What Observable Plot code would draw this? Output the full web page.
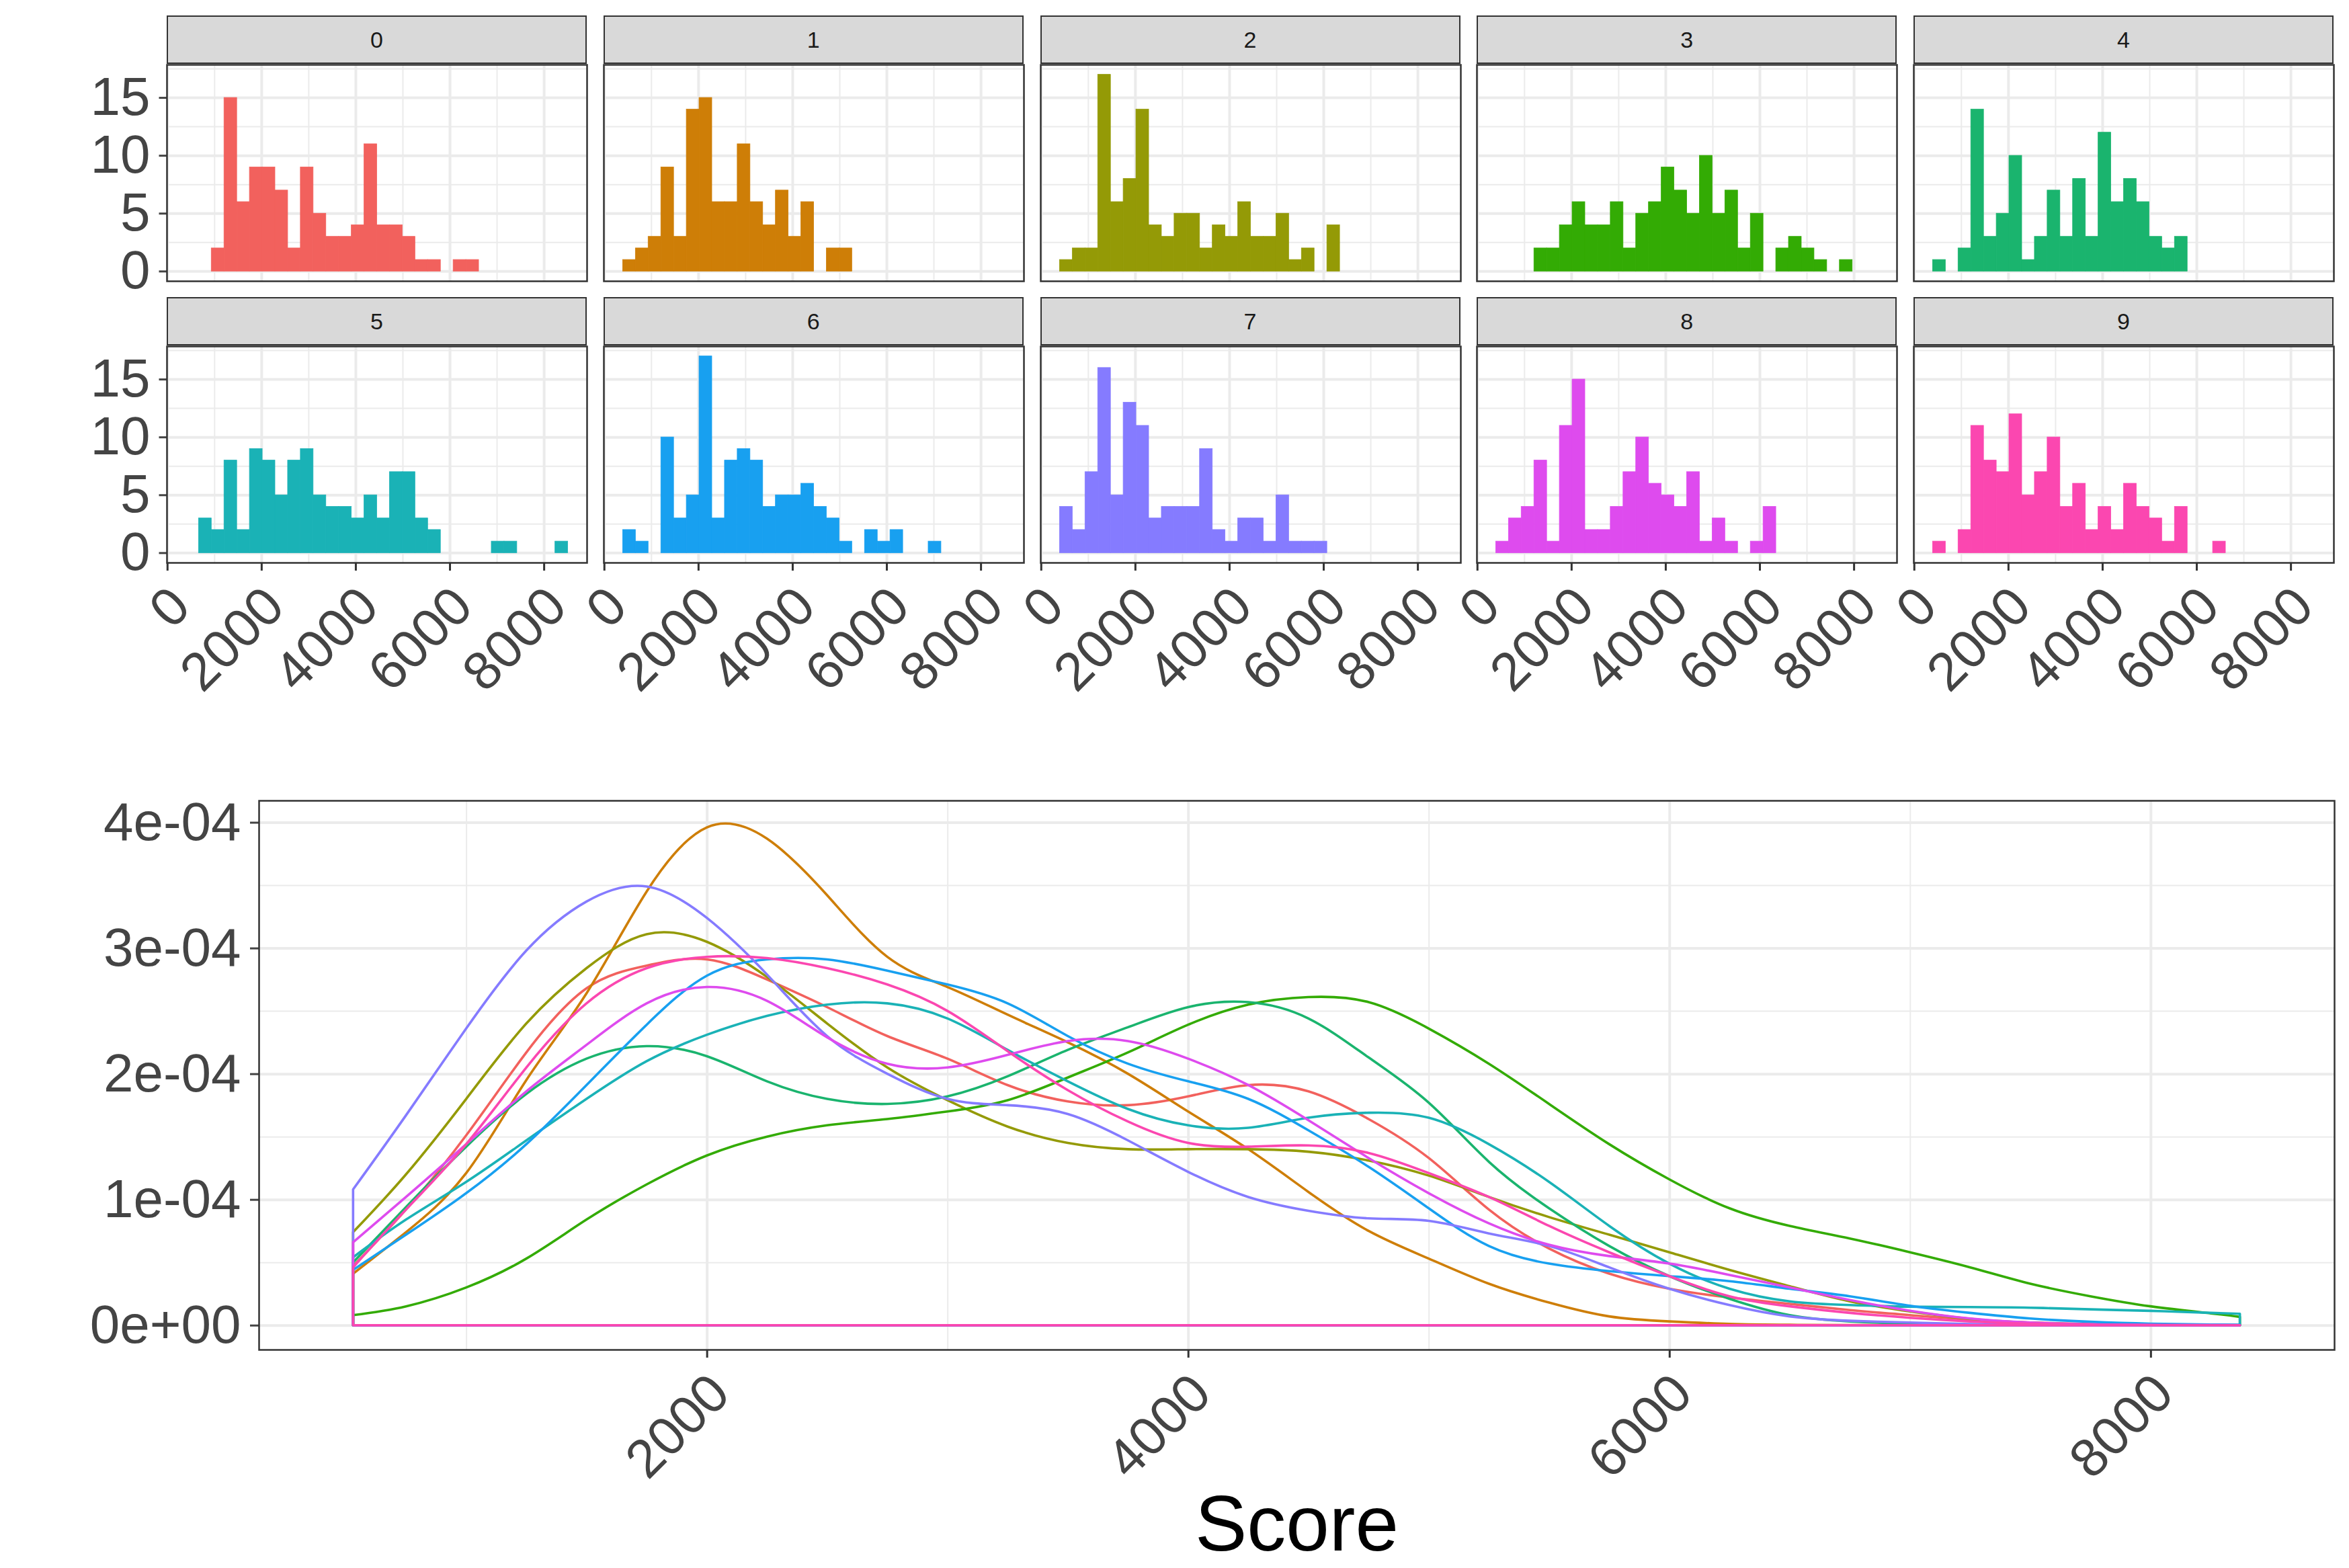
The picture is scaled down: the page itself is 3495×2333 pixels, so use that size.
<!DOCTYPE html>
<html>
<head>
<meta charset="utf-8">
<script src="https://cdn.jsdelivr.net/npm/d3@7"></script>
<script src="https://cdn.jsdelivr.net/npm/@observablehq/plot@0.6"></script>
<style>
html, body { margin: 0; padding: 0; background: #ffffff; }
#root { position: relative; width: 3495px; height: 2333px; overflow: hidden; background: #ffffff;
  font-family: "Liberation Sans", Arial, Helvetica, sans-serif; }
.strip { position: absolute; box-sizing: border-box; background: #D9D9D9; border: 2.5px solid #333333;
  display: flex; align-items: center; justify-content: center; font-size: 34px; color: #1A1A1A; }
.cell { position: absolute; }
.cell svg { max-width: none; overflow: visible; display: block; }
</style>
</head>
<body>
<div id="root"></div>
<script>
// ---------------- data ----------------
const groups = ["0", "1", "2", "3", "4", "5", "6", "7", "8", "9"];
const groupColors = ["#F2615D", "#CE7E07", "#949A06", "#33AB04", "#1AB46E",
                     "#1AB2B6", "#18A0F0", "#857BFF", "#DE4BEE", "#FB47B0"];

// histogram: 30 bins of equal width
const binStart = 394.8;
const binWidth = 270.4;
const counts0 = [0,0,2,15,6,9,9,7,2,9,5,3,3,4,11,4,4,3,1,1,0,1,1,0,0,0,0,0,0,0];
const counts1 = [1,2,3,9,3,14,15,6,6,11,6,4,7,3,6,0,2,2,0,0,0,0,0,0,0,0,0,0,0,0];
const counts2 = [1,2,2,17,6,8,14,4,3,5,5,2,4,3,6,3,3,5,1,2,0,4,0,0,0,0,0,0,0,0];
const counts3 = [0,0,0,2,2,4,6,4,4,6,2,5,6,9,7,5,10,5,7,2,5,0,2,3,2,1,0,1,0,0];
const counts4 = [1,0,2,14,3,5,10,1,3,7,3,8,3,12,6,8,6,3,2,3,0,0,0,0,0,0,0,0,0,0];
const counts5 = [0,3,2,8,2,9,8,5,8,9,5,4,4,3,5,3,7,7,3,2,0,0,0,0,1,1,0,0,0,1];
const counts6 = [2,1,0,10,3,5,17,3,8,9,8,4,5,5,6,4,3,1,0,2,1,2,0,0,1,0,0,0,0,0];
const counts7 = [4,2,7,16,5,13,11,3,4,4,4,9,2,1,3,3,1,5,1,1,1,0,0,0,0,0,0,0,0,0];
const counts8 = [1,3,4,8,1,11,15,2,2,4,7,10,6,5,4,7,1,3,1,0,1,4,0,0,0,0,0,0,0,0];
const counts9 = [1,0,2,11,8,7,12,5,7,10,4,6,2,4,2,6,4,3,1,4,0,0,1,0,0,0,0,0,0,0];
const histCounts = [counts0, counts1, counts2, counts3, counts4, counts5, counts6, counts7, counts8, counts9];

const histXMajor = [0, 2000, 4000, 6000, 8000];
const histXMinor = [1000, 3000, 5000, 7000];
const histYMajor = [0, 5, 10, 15];
const histYMinor = [2.5, 7.5, 12.5, 17.5];
const histXLabels = ["0", "2000", "4000", "6000", "8000"];
const histYLabels = ["0", "5", "10", "15"];

// density curves (values in units of 1e-4)
const DENS_UNIT = 1e-4;
const densX = [530, 750, 1000, 1250, 1500, 1750, 2000, 2250, 2500, 2750, 3000, 3250, 3500, 3750, 4000,
               4250, 4500, 4750, 5000, 5250, 5500, 5750, 6000, 6250, 6500, 6750, 7000, 7250, 7500, 7750,
               8000, 8250, 8371];
const dens0 = [0.47,0.92,1.51,2.17,2.68,2.86,2.91,2.75,2.53,2.30,2.12,1.91,1.78,1.75,1.82,1.91,1.86,1.64,1.33,0.92,0.61,0.41,0.29,0.22,0.17,0.12,0.08,0.044,0.021,0.009,0.003,0.001,0.0005];
const dens1 = [0.41,0.74,1.21,1.95,2.64,3.45,3.96,3.87,3.42,2.93,2.69,2.47,2.25,2.00,1.70,1.40,1.06,0.75,0.53,0.33,0.18,0.07,0.03,0.01,0.003,0.001,0,0,0,0,0,0,0];
const dens2 = [0.74,1.20,1.80,2.40,2.84,3.11,3.05,2.77,2.40,2.05,1.79,1.58,1.45,1.40,1.40,1.40,1.38,1.31,1.19,1.02,0.86,0.72,0.58,0.44,0.31,0.19,0.11,0.05,0.02,0.006,0.002,0.0005,0];
const dens3 = [0.08,0.15,0.30,0.53,0.84,1.12,1.35,1.50,1.59,1.64,1.70,1.79,1.97,2.17,2.39,2.55,2.61,2.57,2.36,2.08,1.76,1.44,1.16,0.93,0.79,0.69,0.58,0.46,0.33,0.23,0.15,0.094,0.066];
const dens4 = [0.50,0.94,1.42,1.84,2.12,2.22,2.14,1.94,1.80,1.76,1.82,1.98,2.19,2.37,2.53,2.57,2.44,2.13,1.77,1.30,0.93,0.63,0.39,0.21,0.08,0.03,0.012,0.004,0.001,0,0,0,0];
const dens5 = [0.54,0.84,1.14,1.47,1.80,2.10,2.31,2.46,2.55,2.56,2.44,2.19,1.94,1.72,1.59,1.57,1.65,1.69,1.65,1.44,1.14,0.79,0.49,0.29,0.19,0.16,0.147,0.144,0.139,0.126,0.114,0.098,0.091];
const dens6 = [0.44,0.72,1.05,1.44,1.91,2.39,2.78,2.91,2.91,2.82,2.71,2.56,2.30,2.08,1.94,1.80,1.55,1.26,0.93,0.63,0.49,0.43,0.39,0.35,0.29,0.23,0.155,0.098,0.053,0.027,0.012,0.005,0.004];
const dens7 = [1.08,1.67,2.36,2.98,3.37,3.49,3.24,2.79,2.30,2.00,1.80,1.75,1.68,1.47,1.22,1.02,0.91,0.85,0.83,0.73,0.63,0.46,0.29,0.16,0.07,0.035,0.021,0.009,0.003,0.001,0,0,0];
const dens8 = [0.66,1.02,1.44,1.86,2.23,2.56,2.69,2.58,2.29,2.08,2.05,2.15,2.26,2.26,2.12,1.91,1.63,1.33,1.05,0.81,0.64,0.55,0.49,0.40,0.30,0.20,0.115,0.053,0.021,0.007,0.002,0.0005,0];
const dens9 = [0.46,0.92,1.44,2.05,2.56,2.84,2.93,2.92,2.84,2.71,2.50,2.18,1.87,1.62,1.45,1.42,1.43,1.37,1.21,1.02,0.79,0.58,0.39,0.23,0.15,0.098,0.059,0.030,0.012,0.004,0.001,0,0];
const densSeries = [dens0, dens1, dens2, dens3, dens4, dens5, dens6, dens7, dens8, dens9];

const densXMajor = [2000, 4000, 6000, 8000];
const densXMinor = [1000, 3000, 5000, 7000];
const densXLabels = ["2000", "4000", "6000", "8000"];
const densYMajor = [0, 0.0001, 0.0002, 0.0003, 0.0004];
const densYMinor = [0.00005, 0.00015, 0.00025, 0.00035];
const densYLabels = ["0e+00", "1e-04", "2e-04", "3e-04", "4e-04"];
const xTitle = "Score";

// ---------------- layout ----------------
const FONT = "'Liberation Sans', Arial, Helvetica, sans-serif";
const GRID = "#EBEBEB";
const INK = "#333333";
const TXT = "#444444";
const root = document.getElementById("root");

const panelLefts = [248, 897.75, 1547.5, 2197.25, 2847];
const panelW = 625;
const panelH = 322;
const rowPanelTop = [96, 515];
const rowStripTop = [23, 442];
const stripH = 72;

function place(node, left, top, w, h) {
  const d = document.createElement("div");
  d.className = "cell";
  d.style.left = left + "px";
  d.style.top = top + "px";
  d.style.width = w + "px";
  d.style.height = h + "px";
  d.appendChild(node);
  root.appendChild(d);
}

function lookup(labels, ticks) {
  return d => labels[ticks.findIndex(t => Math.abs(t - d) < 1e-12)];
}

groups.forEach((g, i) => {
  const r = Math.floor(i / 5), c = i % 5;
  const pl = panelLefts[c], pt = rowPanelTop[r];
  const mL = c === 0 ? pl : 12, mR = 12, mT = 12, mB = r === 1 ? 240 : 12;
  const W = panelW + mL + mR, H = panelH + mT + mB;
  const bars = histCounts[i]
    .map((n, k) => ({x1: binStart + k * binWidth, x2: binStart + (k + 1) * binWidth, n}))
    .filter(b => b.n > 0);
  const col = groupColors[i];
  const marks = [
    Plot.gridX(histXMinor, {stroke: GRID, strokeOpacity: 1, strokeWidth: 2}),
    Plot.gridY(histYMinor, {stroke: GRID, strokeOpacity: 1, strokeWidth: 2}),
    Plot.gridX(histXMajor, {stroke: GRID, strokeOpacity: 1, strokeWidth: 4}),
    Plot.gridY(histYMajor, {stroke: GRID, strokeOpacity: 1, strokeWidth: 4}),
    Plot.rectY(bars, {x1: "x1", x2: "x2", y: "n", fill: col, stroke: col, strokeWidth: 0.8})
  ];
  if (c === 0) {
    marks.push(Plot.axisY({ticks: histYMajor, tickFormat: lookup(histYLabels, histYMajor),
      tickSize: 11.5, tickPadding: 13.5, strokeWidth: 3, color: TXT, label: null}));
  }
  if (r === 1) {
    marks.push(Plot.axisX({ticks: histXMajor, tickFormat: () => "", tickSize: 12,
      strokeWidth: 3, color: INK, label: null}));
    marks.push(Plot.text(histXMajor, {x: d => d, frameAnchor: "bottom", text: lookup(histXLabels, histXMajor),
      rotate: -45, textAnchor: "end", lineAnchor: "top", dx: -2.5, dy: 29, fill: TXT}));
  }
  marks.push(Plot.frame({stroke: INK, strokeWidth: 2.5}));
  const svg = Plot.plot({
    width: W, height: H,
    marginLeft: mL, marginRight: mR, marginTop: mT, marginBottom: mB,
    x: {domain: [-10.8, 8912], axis: null},
    y: {domain: [-0.85, 17.85], axis: null},
    style: {fontFamily: FONT, fontSize: "80px", color: TXT, background: "transparent", overflow: "visible"},
    marks
  });
  place(svg, pl - mL, pt - mT, W, H);

  const s = document.createElement("div");
  s.className = "strip";
  s.style.left = pl + "px";
  s.style.top = rowStripTop[r] + "px";
  s.style.width = panelW + "px";
  s.style.height = stripH + "px";
  s.textContent = g;
  root.appendChild(s);
});

// density plot (unstacked outlines, like geom_density with no fill)
const densRows = [];
groups.forEach((g, i) => densX.forEach((x, k) => densRows.push({g, x, y: densSeries[i][k] * DENS_UNIT})));

const dTop = 1150, dH = 1183;
const densSvg = Plot.plot({
  width: 3495, height: dH,
  marginLeft: 385, marginRight: 22, marginTop: 41, marginBottom: 325,
  x: {domain: [138, 8763], axis: null},
  y: {domain: [-0.194e-4, 4.174e-4], axis: null},
  color: {domain: groups, range: groupColors},
  style: {fontFamily: FONT, fontSize: "80px", color: TXT, background: "transparent", overflow: "visible"},
  marks: [
    Plot.gridX(densXMinor, {stroke: GRID, strokeOpacity: 1, strokeWidth: 2}),
    Plot.gridY(densYMinor, {stroke: GRID, strokeOpacity: 1, strokeWidth: 2}),
    Plot.gridX(densXMajor, {stroke: GRID, strokeOpacity: 1, strokeWidth: 4}),
    Plot.gridY(densYMajor, {stroke: GRID, strokeOpacity: 1, strokeWidth: 4}),
    Plot.areaY(densRows, {x: "x", y1: () => 0, y2: "y", z: "g", stroke: "g", fill: "none",
      strokeWidth: 3.6, curve: "natural"}),
    Plot.axisY({ticks: densYMajor, tickFormat: lookup(densYLabels, densYMajor),
      tickSize: 13, tickPadding: 14, strokeWidth: 3, color: TXT, label: null}),
    Plot.axisX({ticks: densXMajor, tickFormat: () => "", tickSize: 12, strokeWidth: 3, color: INK, label: null}),
    Plot.text(densXMajor, {x: d => d, frameAnchor: "bottom", text: lookup(densXLabels, densXMajor),
      rotate: -45, textAnchor: "end", lineAnchor: "top", dx: -2.5, dy: 29, fill: TXT}),
    Plot.text([xTitle], {frameAnchor: "bottom", text: d => d, lineAnchor: "middle", dy: 261,
      fontSize: 116, fill: "#000000"}),
    Plot.frame({stroke: INK, strokeWidth: 2.5})
  ]
});
place(densSvg, 0, dTop, 3495, dH);
</script>
</body>
</html>
